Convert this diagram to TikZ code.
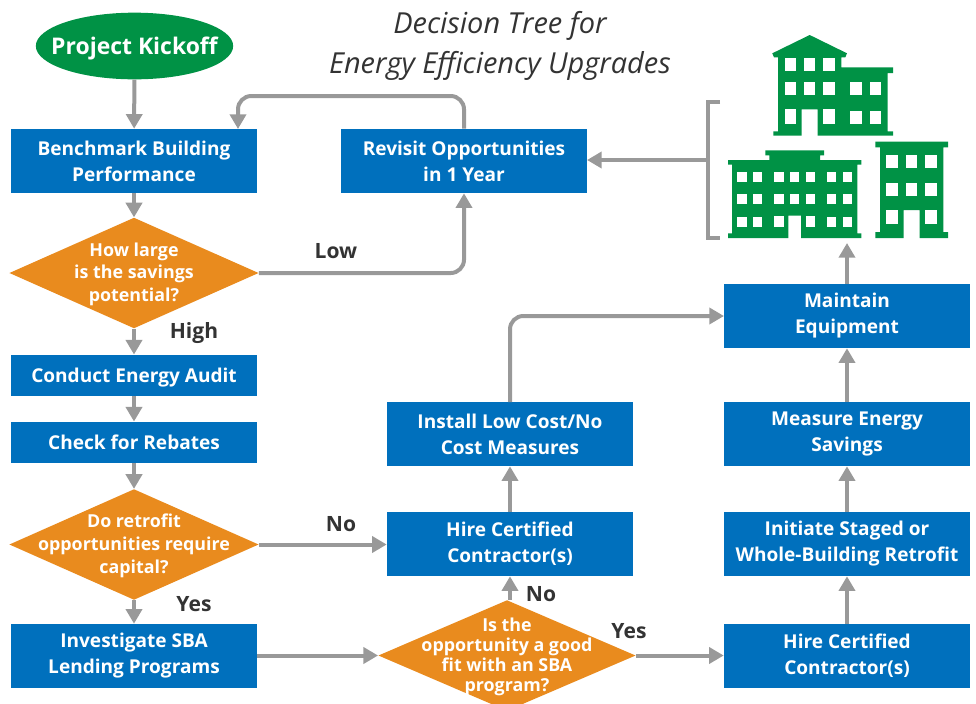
\documentclass[tikz,border=0pt]{standalone}
\usepackage{fontspec}
\setmainfont{Open Sans}
\usetikzlibrary{arrows.meta,shapes.geometric}
\definecolor{boxblue}{HTML}{0070BD}
\definecolor{kickgreen}{HTML}{009245}
\definecolor{decorange}{HTML}{E98B1E}
\definecolor{linegray}{HTML}{999999}
\definecolor{labeldark}{HTML}{333333}
\tikzset{
    flowbox/.style={rectangle, fill=boxblue, text=white, font=\fontsize{14.3}{19.5}\selectfont\bfseries, align=center, minimum width=184.5pt, minimum height=48pt, inner sep=0pt},
    shortbox/.style={flowbox, minimum height=31pt, text height=10.5pt, text depth=0pt},
    decision/.style={diamond, fill=decorange, inner sep=0pt, minimum width=187pt, minimum height=83pt},
    dectext/.style={text=white, font=\fontsize{13.4}{17}\selectfont\bfseries, align=center, inner sep=0pt, yshift=-1pt},
    flowline/.style={draw=linegray, line width=3pt, -{Triangle[length=11pt,width=12pt]}},
    branch/.style={text=labeldark, font=\fontsize{15.8}{18}\selectfont\bfseries, inner sep=0pt},
    bldg/.style={fill=kickgreen, draw=none}
}
\begin{document}
\begin{tikzpicture}[x=0.75pt,y=-0.75pt]
    \useasboundingbox (0,0) rectangle (976,704);
    \node[font=\fontsize{21.7}{30}\selectfont\itshape, text=labeldark, align=center, inner sep=0pt] (title) at (500,46) {Decision Tree for\\Energy Efficiency Upgrades};

    \node[ellipse, fill=kickgreen, minimum width=148pt, minimum height=50pt, inner sep=0pt, label={[text=white, font=\fontsize{17.2}{19}\selectfont\bfseries, inner sep=0pt, yshift=-1.5pt]center:{Project Kickoff}}] (kickoff) at (134.5,46) {};
    \node[flowbox] (benchmark) at (134,161) {Benchmark Building\\Performance};
    \node[flowbox] (revisit) at (464,161) {Revisit Opportunities\\in 1 Year};
    \node[decision, label={[dectext]center:{How large\\is the savings\\potential?}}] (savings) at (134,273) {};
    \node[shortbox] (audit) at (134,375.5) {Conduct Energy Audit};
    \node[shortbox] (rebates) at (134,442.5) {Check for Rebates};
    \node[decision, label={[dectext]center:{Do retrofit\\opportunities require\\capital?}}] (capital) at (134,544.5) {};
    \node[flowbox] (lending) at (134,656) {Investigate SBA\\Lending Programs};
    \node[flowbox] (hirelow) at (510,544) {Hire Certified\\Contractor(s)};
    \node[flowbox] (install) at (510,434) {Install Low Cost/No\\Cost Measures};
    \node[decision, minimum width=193pt, label={[dectext, font=\fontsize{13.4}{15.2}\selectfont\bfseries]center:{Is the\\opportunity a good\\fit with an SBA\\program?}}] (fit) at (507,655.5) {};
    \node[flowbox] (hirehigh) at (847,656) {Hire Certified\\Contractor(s)};
    \node[flowbox] (retrofit) at (847,544) {Initiate Staged or\\Whole-Building Retrofit};
    \node[flowbox] (measure) at (847,434) {Measure Energy\\Savings};
    \node[flowbox] (maintain) at (847,316) {Maintain\\Equipment};

    \coordinate (loopleft) at (238,96);
    \coordinate (loopin) at (238,129);
    \coordinate (braceup) at (847,243);
    \coordinate (bracetop) at (720,102);
    \coordinate (bracebot) at (720,238);
    \coordinate (bracemid) at (708,160);
    \coordinate (revisitin) at (587,160);
    \coordinate (installout) at (510,402);
    \coordinate (maintainin) at (724,316);

    \draw[flowline] (kickoff) -- (benchmark);
    \draw[flowline, rounded corners=10pt] (revisit.north) |- (loopleft) -- (loopin);
    \draw[flowline] (benchmark) -- (savings.north);
    \draw[flowline, rounded corners=10pt] (savings.east) -| (revisit.south);
    \draw[flowline] (savings.south) -- (audit);
    \draw[flowline] (audit) -- (rebates);
    \draw[flowline] (rebates) -- (capital.north);
    \draw[flowline] (capital.south) -- (lending);
    \draw[flowline] (capital.east) -- (hirelow.west |- capital.east);
    \draw[flowline] (lending.east |- fit.west) -- (fit.west);
    \draw[flowline] (fit.north -| hirelow) -- (hirelow.south);
    \draw[flowline] (fit.east) -- (hirehigh.west |- fit.east);
    \draw[flowline] (hirelow) -- (install);
    \draw[flowline, rounded corners=10pt] (installout) |- (maintainin);
    \draw[flowline] (hirehigh) -- (retrofit);
    \draw[flowline] (retrofit) -- (measure);
    \draw[flowline] (measure) -- (maintain);
    \draw[flowline] (maintain) -- (braceup);
    \draw[draw=linegray, line width=3pt] (bracetop) -| (bracemid |- bracetop) -- (bracemid |- bracebot) -- (bracebot);
    \draw[flowline] (bracemid) -- (revisitin);

    \node[branch] (lowlabel) at (336,251) {Low};
    \node[branch] (highlabel) at (194,333) {High};
    \node[branch] (nocapital) at (341,524) {No};
    \node[branch] (yescapital) at (194,604) {Yes};
    \node[branch] (nofit) at (541,594) {No};
    \node[branch] (yesfit) at (629,631) {Yes};

    \fill[bldg] (809.7,35) -- (847,53.3) -- (845.3,57.3) -- (841.3,57.3) -- (841.3,67.3) -- (893,67.3) -- (893,73) -- (887.7,73) -- (887.7,131.3) -- (893,131.3) -- (893,135.7) -- (817.7,135.7) -- (817.7,109.3) -- (801.7,109.3) -- (801.7,135.7) -- (773.3,135.7) -- (773.3,131.3) -- (778,131.3) -- (778,57.3) -- (774,57.3) -- (772.3,53.3) -- cycle;
    \foreach \wx in {784.7,804,823.3} \fill[white] (\wx,58) rectangle ++(11.3,13);
    \foreach \wx in {784.7,804,823.3,850.3,869.7} \fill[white] (\wx,81.7) rectangle ++(11.3,13);
    \foreach \wx in {784.7,823.3} \fill[white] (\wx,109.3) rectangle ++(11.3,14.4);
    \foreach \wx in {850.3,869.7} \fill[white] (\wx,110.7) rectangle ++(11.3,13);

    \fill[bldg] (765.3,150.3) -- (824,150.3) -- (824,155.3) -- (820,155.3) -- (820,160) -- (861.3,160) -- (861.3,164.7) -- (857.3,164.7) -- (857.3,233.3) -- (861.3,233.3) -- (861.3,238) -- (801,238) -- (801,215.7) -- (788.3,215.7) -- (788.3,238) -- (728,238) -- (728,233.3) -- (732,233.3) -- (732,164.7) -- (728,164.7) -- (728,160) -- (769.3,160) -- (769.3,155.3) -- (765.3,155.3) -- cycle;
    \foreach \wy in {172,193.7} \foreach \wx in {737.3,753,774.3,790,805.7,827,842.7} \fill[white] (\wx,\wy) rectangle ++(9.3,10.3);
    \foreach \wx in {737.3,753,827,842.7} \fill[white] (\wx,216.7) rectangle ++(9.3,10.3);
    \foreach \wx in {774.3,805.7} \fill[white] (\wx,215.7) rectangle ++(9.3,11.3);

    \fill[bldg] (875.3,141.7) -- (948,141.7) -- (948,147.3) -- (943.3,147.3) -- (943.3,232) -- (948,232) -- (948,238) -- (919.7,238) -- (919.7,210) -- (903.7,210) -- (903.7,238) -- (875.3,238) -- (875.3,232) -- (880,232) -- (880,147.3) -- (875.3,147.3) -- cycle;
    \foreach \wy in {155,182.7} \foreach \wx in {886.3,906,925.3} \fill[white] (\wx,\wy) rectangle ++(11.3,13);
    \foreach \wx in {886.3,925.3} \fill[white] (\wx,210) rectangle ++(11.3,14.3);
\end{tikzpicture}
\end{document}
